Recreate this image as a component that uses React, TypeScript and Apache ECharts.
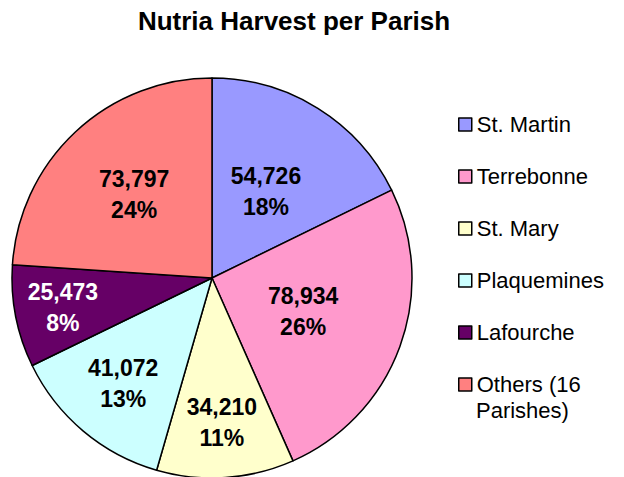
import React, { useEffect, useRef } from "react";
import * as echarts from "echarts";

const parishes = ["St. Martin", "Terrebonne", "St. Mary", "Plaquemines", "Lafourche", "Others (16 Parishes)"];
const harvest = [54726, 78934, 34210, 41072, 25473, 73797];
const sliceColors = ["#9999FF", "#FF99CC", "#FFFFCC", "#CCFFFF", "#660066", "#FF8080"];
const labelColors = ["#000", "#000", "#000", "#000", "#fff", "#000"];
// label radial position as fraction of radius (styling)
const labelRadiusFrac = [0.495, 0.47, 0.71, 0.675, 0.745, 0.555];

const CX = 212;
const CY = 278;
const R = 200;

export default function App() {
  const ref = useRef<HTMLDivElement>(null);
  useEffect(() => {
    if (!ref.current) return;
    const chart = echarts.init(ref.current, null, { renderer: "svg" });
    const total = harvest.reduce((a, b) => a + b, 0);
    const mids: number[] = [];
    let cum = 0;
    harvest.forEach((v) => {
      mids.push((2 * Math.PI * (cum + v / 2)) / total);
      cum += v;
    });
    const font = "Arial, 'Liberation Sans', sans-serif";
    const legendCommon = {
      orient: "vertical",
      left: 453,
      itemWidth: 13,
      itemHeight: 13,
      itemGap: 25,
      icon: "rect",
      selectedMode: false,
      itemStyle: { borderColor: "#000", borderWidth: 1.5 },
      textStyle: { fontFamily: font, fontSize: 22, color: "#000", lineHeight: 27 },
    };
    const last = parishes[parishes.length - 1];
    chart.setOption({
      animation: false,
      backgroundColor: "#fff",
      title: {
        text: "Nutria Harvest per Parish",
        left: 289,
        top: 3,
        textAlign: "center",
        textStyle: { fontFamily: font, fontSize: 26, fontWeight: "bold", color: "#000" },
      },
      legend: [
        { ...legendCommon, top: 106, data: parishes.slice(0, parishes.length - 1) },
        {
          ...legendCommon,
          top: 366,
          data: [last],
          formatter: () => "Others (16",
        },
      ],
      graphic: [
        {
          type: "text",
          left: 476,
          top: 399,
          style: { text: "Parishes)", fontFamily: font, fontSize: 22, fill: "#000" },
        },
      ],
      series: [
        {
          type: "pie",
          center: [CX, CY],
          radius: R,
          startAngle: 90,
          clockwise: true,
          avoidLabelOverlap: false,
          itemStyle: { borderColor: "#000", borderWidth: 1.5 },
          emphasis: { disabled: true },
          label: {
            show: true,
            position: "inside",
            fontFamily: font,
            fontSize: 23,
            fontWeight: "bold",
            lineHeight: 31,
            formatter: (p: any) => `${Number(p.value).toLocaleString("en-US")}\n${Math.round(p.percent)}%`,
          },
          labelLayout: (p: any) => {
            const i = p.dataIndex;
            const extra = R * labelRadiusFrac[i] - R / 2;
            return { dx: Math.sin(mids[i]) * extra, dy: -Math.cos(mids[i]) * extra };
          },
          data: parishes.map((n, i) => ({
            name: n,
            value: harvest[i],
            itemStyle: { color: sliceColors[i] },
            label: { color: labelColors[i] },
          })),
        },
      ],
    });
    return () => chart.dispose();
  }, []);
  return (
    <div
      ref={ref}
      style={{ position: "fixed", left: 0, top: 0, width: 624, height: 477 }}
    />
  );
}
